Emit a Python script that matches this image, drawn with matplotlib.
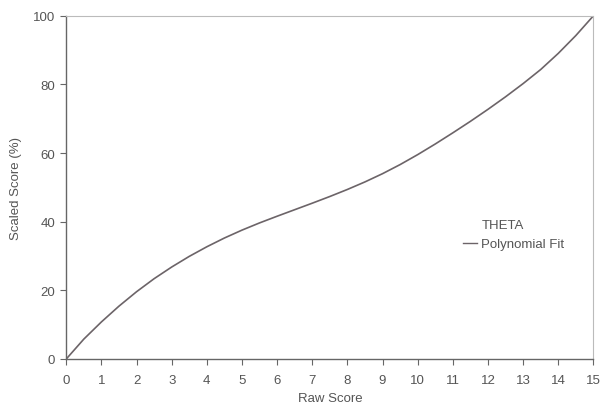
import matplotlib
matplotlib.use("Agg")
import matplotlib.pyplot as plt
from matplotlib.lines import Line2D

# Raw score vs scaled score (every half point)
raw_score = [0, 0.5, 1, 1.5, 2, 2.5, 3, 3.5, 4, 4.5, 5, 5.5, 6, 6.5, 7, 7.5,
             8, 8.5, 9, 9.5, 10, 10.5, 11, 11.5, 12, 12.5, 13, 13.5, 14,
             14.5, 15]
scaled_score = [0, 5.8, 10.8, 15.4, 19.6, 23.4, 26.8, 29.9, 32.7, 35.25,
                37.55, 39.65, 41.6, 43.5, 45.4, 47.35, 49.4, 51.6, 54.0,
                56.65, 59.55, 62.65, 65.9, 69.25, 72.75, 76.4, 80.25, 84.35,
                89.05, 94.25, 100.0]

x_ticks = list(range(0, 16))
y_ticks = [0, 20, 40, 60, 80, 100]

plt.rcParams["font.family"] = ["Liberation Sans", "DejaVu Sans"]

TEXT = "#555555"
AXIS = "#666666"
LINE = "#6c6468"

fig = plt.figure(figsize=(6.08, 4.10), dpi=100)
ax = fig.add_axes([0.109, 0.122, 0.867, 0.837])

ax.plot(raw_score, scaled_score, color=LINE, linewidth=1.2)

ax.set_xlim(0, 15)
ax.set_ylim(0, 100)
ax.set_xticks(x_ticks)
ax.set_yticks(y_ticks)

for side in ("left", "bottom"):
    ax.spines[side].set_color(AXIS)
    ax.spines[side].set_linewidth(1.0)
for side in ("top", "right"):
    ax.spines[side].set_color("#bbbbbb")
    ax.spines[side].set_linewidth(0.8)
    ax.spines[side].set_linestyle((0, (1, 1)))

ax.tick_params(axis="both", direction="out", length=4, width=0.8,
               color=AXIS, labelcolor=TEXT, labelsize=9.5)
ax.tick_params(axis="x", pad=7)
ax.tick_params(axis="y", pad=4)

ax.set_xlabel("Raw Score", color=TEXT, fontsize=9.5, labelpad=4)
ax.set_ylabel("Scaled Score (%)", color=TEXT, fontsize=9.5, labelpad=8)

handles = [
    Line2D([], [], color="none"),
    Line2D([], [], color=LINE, linewidth=1.0),
]
leg = ax.legend(handles, ["THETA", "Polynomial Fit"], loc="center left",
                bbox_to_anchor=(0.73, 0.362), frameon=False, fontsize=9.5,
                handlelength=1.1, handletextpad=0.3, labelspacing=0.5)
for t in leg.get_texts():
    t.set_color(TEXT)

fig.savefig("out.png", dpi=100)
